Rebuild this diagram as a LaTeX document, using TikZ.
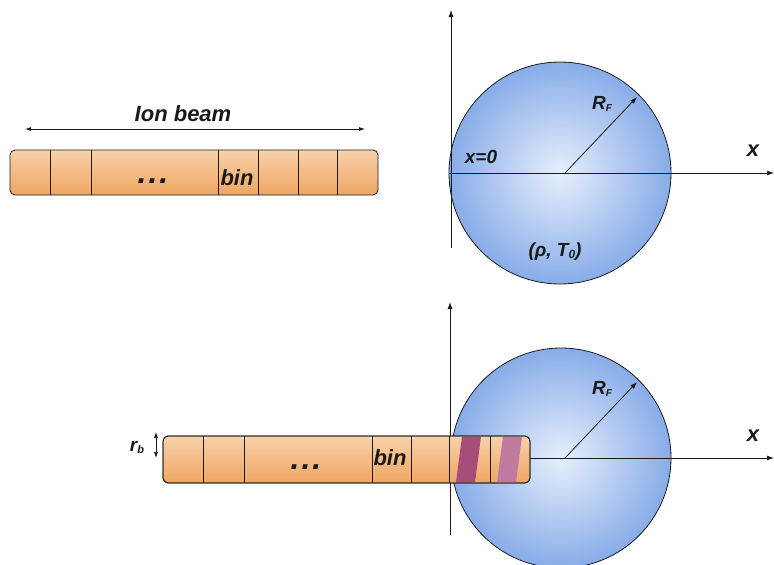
\documentclass[tikz,border=0pt]{standalone}
\usepackage{fontspec}
\setmainfont{Liberation Sans}
\usetikzlibrary{arrows.meta}
\definecolor{beamtop}{HTML}{F9D1AA}
\definecolor{beambot}{HTML}{EEA561}
\definecolor{sphin}{HTML}{E6EFFC}
\definecolor{sphout}{HTML}{88ACE8}
\definecolor{stripeA}{HTML}{A64D79}
\definecolor{stripeB}{HTML}{C27BA0}
\definecolor{ink}{HTML}{1A1A1A}
\begin{document}
\begin{tikzpicture}[x=1pt,y=-1pt,
  lbl/.style={font=\bfseries\itshape\fontsize{22}{26}\selectfont, inner sep=0pt, text=ink},
  smalllbl/.style={font=\bfseries\itshape\fontsize{19}{22}\selectfont, inner sep=0pt, text=ink},
  dotlbl/.style={font=\bfseries\itshape\fontsize{32}{36}\selectfont, inner sep=0pt, text=ink},
  beam/.style={draw=ink, line width=0.8pt, rounded corners=5pt, top color=beamtop, bottom color=beambot},
  sphere/.style={draw=ink, line width=0.8pt, inner color=sphin, outer color=sphout},
  divider/.style={draw=ink, line width=0.8pt},
  axis/.style={draw=ink, line width=0.8pt, -{Latex[length=7pt,width=5pt]}},
  dimarrow/.style={draw=ink, line width=0.8pt, {Latex[length=6pt,width=4pt]}-{Latex[length=6pt,width=4pt]}}
]
\useasboundingbox (0,0) rectangle (774,565);

% ---------- top panel ----------
\coordinate (s1) at (560,173);
\coordinate (c1) at (565,173);
\shade[sphere] (s1) circle (111);
\coordinate (v1b) at (451,248);
\coordinate (v1t) at (451,10);
\coordinate (h1a) at (449,173);
\coordinate (h1b) at (774,173);
\coordinate (r1) at (637,97);
\draw[axis] (v1b) -- (v1t);
\draw[axis] (h1a) -- (h1b);
\draw[axis] (c1) -- (r1);
\node[lbl] (x1) at (753,151) {x};
\node[smalllbl] (rf1) at (602,104) {R\raisebox{-2pt}{\fontsize{10}{10}\selectfont F}};
\node[smalllbl] (x0) at (481,157) {x=0};
\node[smalllbl] (rho) at (555,252) {(ρ, T\raisebox{-2pt}{\fontsize{12}{12}\selectfont 0})};

\coordinate (ibl) at (25,129);
\coordinate (ibr) at (365,129);
\draw[dimarrow] (ibl) -- (ibr);
\node[lbl] (ion) at (183,114) {Ion beam};

\path[beam] (10,150) rectangle (378,195);
\foreach \xx in {50,91,218,258,298,337}{
  \draw[divider] (\xx,150) -- (\xx,195);
}
\node[dotlbl] (dots1) at (153,181) {.\hspace{2pt}.\hspace{2pt}.};
\node[lbl] (bin1) at (237,178) {bin};

% ---------- bottom panel ----------
\coordinate (s2) at (561,458);
\coordinate (c2) at (565,458);
\shade[sphere] (s2) circle (110);
\coordinate (v2b) at (450,535);
\coordinate (v2t) at (450,302);
\coordinate (h2a) at (500,458);
\coordinate (h2b) at (774,458);
\coordinate (r2) at (637,382);
\draw[axis] (v2b) -- (v2t);
\draw[axis] (h2a) -- (h2b);
\draw[axis] (c2) -- (r2);
\node[lbl] (x2) at (753,436) {x};
\node[smalllbl] (rf2) at (602,389) {R\raisebox{-2pt}{\fontsize{10}{10}\selectfont F}};

\path[beam] (163,436) rectangle (530,483);
\fill[stripeA] (462,436.5) -- (481,436.5) -- (475,482.5) -- (456,482.5) -- cycle;
\fill[stripeB] (503,436.5) -- (522,436.5) -- (516,482.5) -- (497,482.5) -- cycle;
\draw[divider, rounded corners=5pt] (163,436) rectangle (530,483);
\foreach \xx in {203,244,372,411,449,490}{
  \draw[divider] (\xx,436) -- (\xx,483);
}
\node[dotlbl] (dots2) at (306,467) {.\hspace{2pt}.\hspace{2pt}.};
\node[lbl] (bin2) at (390,458) {bin};

\coordinate (rbt) at (156,432);
\coordinate (rbb) at (156,458);
\draw[dimarrow, line width=0.6pt] (rbt) -- (rbb);
\node[smalllbl] (rb) at (137,447) {r\raisebox{-2pt}{\fontsize{11}{11}\selectfont b}};
\end{tikzpicture}
\end{document}
